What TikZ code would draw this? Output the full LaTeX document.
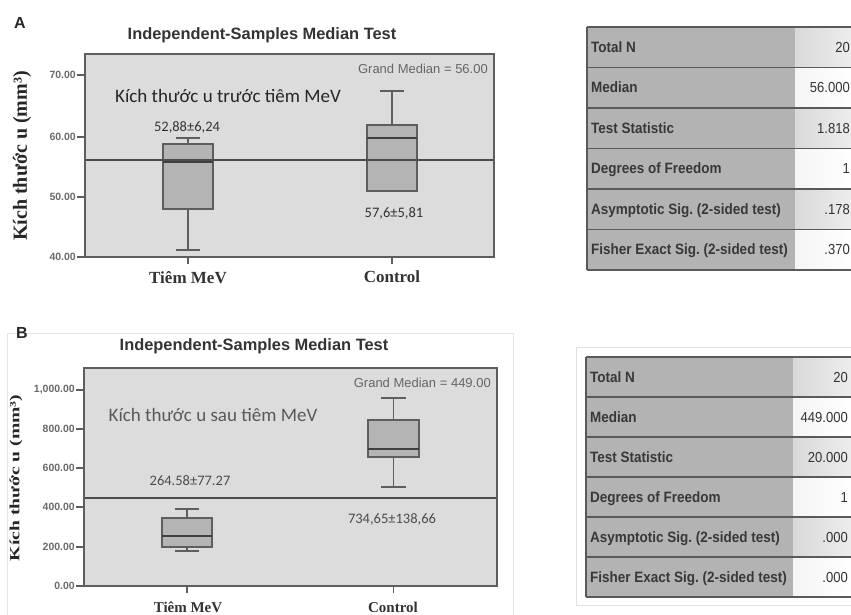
\documentclass[tikz,border=0pt]{standalone}
\usepackage{fontspec}
\setmainfont{Liberation Sans}
\newfontfamily\tnr{Liberation Serif}
\newfontfamily\calib{Carlito}
\usepackage{graphicx}
\definecolor{plotbg}{HTML}{DCDCDC}
\definecolor{boxfill}{HTML}{B4B4B4}
\definecolor{framec}{HTML}{5E5E5E}
\definecolor{tabL}{HTML}{B3B3B3}
\definecolor{tabline}{HTML}{5A5A5A}
\definecolor{ticktxt}{HTML}{6A6A6A}
\newcommand{\cond}[1]{\scalebox{0.9}[1]{#1}}
\begin{document}
\frenchspacing
\begin{tikzpicture}[x=1pt,y=-1pt,
  panel/.style={font=\bfseries\fontsize{16}{18}\selectfont, text=black!85},
  title/.style={font=\bfseries\fontsize{16.4}{18}\selectfont, text=black!80},
  frame/.style={draw=framec, line width=1.4pt},
  bx/.style={fill=boxfill, draw=framec, line width=1.3pt},
  med/.style={draw=black!75, line width=2.6pt},
  whisk/.style={draw=framec, line width=1.3pt},
  gm/.style={draw=black!70, line width=1.5pt},
  ytick/.style={draw=framec, line width=1.1pt},
  yticklab/.style={anchor=east, inner sep=1pt, text=ticktxt, font=\bfseries\fontsize{10.5}{12}\selectfont},
  grandmed/.style={anchor=east, inner sep=0pt, text=black!60, font=\fontsize{13}{15}\selectfont},
  annot/.style={anchor=base, inner sep=0pt, font=\calib\fontsize{19}{22}\selectfont},
  stat/.style={anchor=base, inner sep=0pt, text=black!80, font=\calib\fontsize{14.5}{16}\selectfont},
  catlab/.style={anchor=base, inner sep=0pt, text=black!80, font=\tnr\bfseries\fontsize{17}{19}\selectfont},
  tlab/.style={anchor=base west, inner sep=0pt, text=black!78, font=\bfseries\fontsize{15}{17}\selectfont},
  tval/.style={anchor=base east, inner sep=0pt, text=black!80, font=\fontsize{14.5}{16}\selectfont},
  tline/.style={draw=tabline, line width=1.6pt}
]
\useasboundingbox (0,0) rectangle (851,614);
\fill[white] (0,0) rectangle (851,614);

% ================= Panel A =================
\node[panel] (labA) at (20,23) {A};
\node[title] (titA) at (262,35) {Independent-Samples Median Test};
\fill[plotbg] (85,54) rectangle (494,257);
% box 1
\draw[whisk] (188,138) -- (188,144);
\draw[whisk] (176,138) -- (200,138);
\draw[whisk] (188,209) -- (188,250);
\draw[whisk] (176,250) -- (200,250);
\filldraw[bx] (163,144) rectangle (213,209);
\draw[med] (163,162) -- (213,162);
% box 2
\draw[whisk] (392,91) -- (392,125);
\draw[whisk] (380,91) -- (404,91);
\filldraw[bx] (367,125) rectangle (417,191);
\draw[med] (367,138) -- (417,138);
% grand median
\draw[gm] (85,160) -- (494,160);
\draw[frame] (85,54) rectangle (494,257);
% y ticks
\foreach \yy/\lab/\nm in {75/70.00/a70, 137/60.00/a60, 197/50.00/a50, 257/40.00/a40}{
  \draw[ytick] (77,\yy) -- (85,\yy);
  \node[yticklab] (\nm) at (77,\yy) {\lab};
}
% x ticks
\draw[ytick] (188,257) -- (188,264);
\draw[ytick] (392,257) -- (392,264);
\node[catlab] (catA1) at (188,283) {Tiêm MeV};
\node[catlab] (catA2) at (392,282) {Control};
\node[rotate=90, inner sep=0pt, text=black!85, font=\tnr\bfseries\fontsize{20}{22}\selectfont] (ylabA) at (22,156) {Kích thước u (mm³)};
\node[grandmed] (gmA) at (488,69) {Grand Median = 56.00};
\node[annot, text=black!85] (annA) at (228,102) {Kích thước u trước tiêm MeV};
\node[stat] (stA1) at (187,131) {52,88±6,24};
\node[stat] (stA2) at (394,217) {57,6±5,81};

% ---- Table A
\foreach \i/\lab/\val/\gray in {0/Total N/20/1, 1/Median/56.000/0, 2/Test Statistic/1.818/1, 3/Degrees of Freedom/1/0, 4/Asymptotic Sig. (2-sided test)/.178/1, 5/Fisher Exact Sig. (2-sided test)/.370/0}{
  \pgfmathsetmacro{\ya}{27+40.5*\i}
  \pgfmathsetmacro{\yb}{27+40.5*(\i+1)}
  \pgfmathsetmacro{\ym}{27+40.5*(\i+0.5)+5.2}
  \fill[tabL] (587,\ya) rectangle (795,\yb);
  \ifnum\gray=1
    \shade[left color=black!15, right color=black!7] (795,\ya) rectangle (852,\yb);
  \else
    \shade[left color=black!4, right color=white] (795,\ya) rectangle (852,\yb);
  \fi
  \node[tlab] (ta-l\i) at (591,\ym) {\cond{\lab}};
  \node[tval] (ta-v\i) at (850,\ym) {\cond{\val}};
}
\foreach \i in {0,...,6}{
  \pgfmathsetmacro{\yl}{27+40.5*\i}
  \draw[tline] (587,\yl) -- (852,\yl);
}
\draw[tline] (587,27) -- (587,270);

% ================= Panel B =================
\draw[black!10, line width=0.8pt] (7,333) rectangle (513,620);
\node[panel] (labB) at (22,333) {B};
\node[title] (titB) at (254,346) {Independent-Samples Median Test};
\fill[plotbg] (84,368) rectangle (497,586);
% box 1
\draw[whisk] (187,509) -- (187,518);
\draw[whisk] (175,509) -- (199,509);
\draw[whisk] (187,547) -- (187,551);
\draw[whisk] (175,551) -- (199,551);
\filldraw[bx] (162,518) rectangle (212,547);
\draw[med] (162,536) -- (212,536);
% box 2
\draw[whisk] (393.5,398) -- (393.5,420);
\draw[whisk] (381,398) -- (406,398);
\draw[whisk] (393.5,457) -- (393.5,487);
\draw[whisk] (381,487) -- (406,487);
\filldraw[bx] (368,420) rectangle (419,457);
\draw[med] (368,449) -- (419,449);
\draw[gm] (84,498) -- (497,498);
\draw[frame] (84,368) rectangle (497,586);
\foreach \yy/\lab/\nm in {390/{1,000.00}/b1000, 429/800.00/b800, 468/600.00/b600, 507/400.00/b400, 547/200.00/b200, 586/0.00/b0}{
  \draw[ytick] (76,\yy) -- (84,\yy);
  \node[yticklab] (\nm) at (76,\yy) {\lab};
}
\draw[ytick] (187,586) -- (187,593);
\draw[ytick] (393.5,586) -- (393.5,593);
\node[catlab, font=\tnr\bfseries\fontsize{15}{17}\selectfont] (catB1) at (188,612) {Tiêm MeV};
\node[catlab, font=\tnr\bfseries\fontsize{15}{17}\selectfont] (catB2) at (393,612) {Control};
\node[rotate=90, inner sep=0pt, text=black!85, font=\tnr\bfseries\fontsize{14}{16}\selectfont] (ylabB) at (16,478) {\scalebox{1.4}[1]{Kích thước u (mm³)}};
\node[grandmed] (gmB) at (491,383) {Grand Median = 449.00};
\node[annot, text=black!65] (annB) at (213,421) {Kích thước u sau tiêm MeV};
\node[stat, text=black!70] (stB1) at (190,485) {264.58±77.27};
\node[stat, text=black!70] (stB2) at (392,523) {734,65±138,66};

% ---- Table B
\draw[black!12, line width=0.8pt] (576,347) rectangle (860,605);
\foreach \i/\lab/\val/\gray in {0/Total N/20/1, 1/Median/449.000/0, 2/Test Statistic/20.000/1, 3/Degrees of Freedom/1/0, 4/Asymptotic Sig. (2-sided test)/.000/1, 5/Fisher Exact Sig. (2-sided test)/.000/0}{
  \pgfmathsetmacro{\ya}{357+40*\i}
  \pgfmathsetmacro{\yb}{357+40*(\i+1)}
  \pgfmathsetmacro{\ym}{357+40*(\i+0.5)+5.2}
  \fill[tabL] (586,\ya) rectangle (793,\yb);
  \ifnum\gray=1
    \shade[left color=black!15, right color=black!7] (793,\ya) rectangle (852,\yb);
  \else
    \shade[left color=black!4, right color=white] (793,\ya) rectangle (852,\yb);
  \fi
  \node[tlab] (tb-l\i) at (590,\ym) {\cond{\lab}};
  \node[tval] (tb-v\i) at (848,\ym) {\cond{\val}};
}
\foreach \i in {0,...,6}{
  \pgfmathsetmacro{\yl}{357+40*\i}
  \draw[tline] (586,\yl) -- (852,\yl);
}
\draw[tline] (586,357) -- (586,597);
\end{tikzpicture}
\end{document}
